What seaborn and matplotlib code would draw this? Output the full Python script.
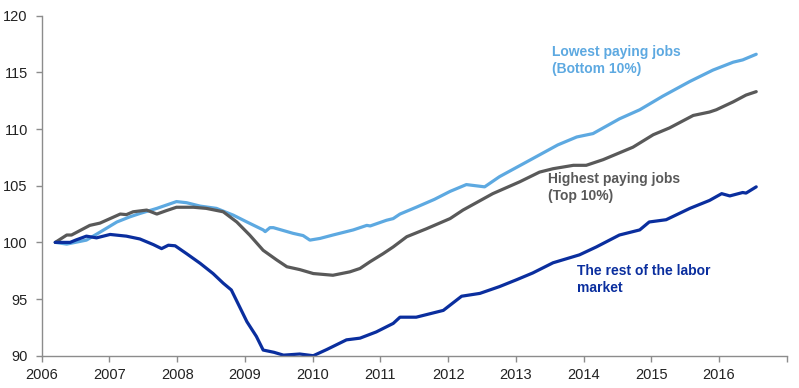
import matplotlib
matplotlib.use("Agg")
import matplotlib.pyplot as plt
import seaborn as sns

# Lowest paying jobs (Bottom 10%)
low_x = [2006.2, 2006.37, 2006.66, 2006.86, 2007.11, 2007.3, 2007.45, 2007.7, 2007.99, 2008.14,
         2008.34, 2008.58, 2008.83, 2009.03, 2009.27, 2009.3, 2009.37, 2009.42, 2009.71, 2009.86,
         2009.96, 2010.11, 2010.3, 2010.6, 2010.8, 2010.85, 2011.09, 2011.19, 2011.29, 2011.53,
         2011.8, 2012.03, 2012.27, 2012.54, 2012.76, 2013.16, 2013.62, 2013.9, 2014.14, 2014.53,
         2014.83, 2015.17, 2015.57, 2015.91, 2016.21, 2016.35, 2016.55]
low_y = [100.0, 99.85, 100.2, 100.9, 101.8, 102.25, 102.55, 103.0, 103.6, 103.5,
         103.2, 103.0, 102.4, 101.8, 101.1, 100.95, 101.3, 101.3, 100.8, 100.6,
         100.2, 100.35, 100.65, 101.1, 101.5, 101.45, 101.95, 102.1, 102.5, 103.1,
         103.8, 104.5, 105.1, 104.9, 105.8, 107.1, 108.6, 109.3, 109.6, 110.9,
         111.7, 112.9, 114.2, 115.2, 115.9, 116.1, 116.6]

# Highest paying jobs (Top 10%)
high_x = [2006.2, 2006.37, 2006.44, 2006.71, 2006.86, 2007.01, 2007.16, 2007.25, 2007.35, 2007.55,
          2007.7, 2007.84, 2007.99, 2008.24, 2008.43, 2008.68, 2008.88, 2009.07, 2009.27, 2009.47,
          2009.62, 2009.81, 2010.01, 2010.3, 2010.55, 2010.7, 2010.85, 2011.04, 2011.19, 2011.29,
          2011.39, 2011.68, 2012.03, 2012.22, 2012.66, 2013.06, 2013.35, 2013.55, 2013.85, 2014.04,
          2014.29, 2014.73, 2015.03, 2015.27, 2015.62, 2015.86, 2015.96, 2016.21, 2016.4, 2016.55]
high_y = [100.0, 100.65, 100.65, 101.5, 101.7, 102.1, 102.5, 102.45, 102.7, 102.85,
          102.5, 102.8, 103.1, 103.1, 103.0, 102.7, 101.8, 100.65, 99.3, 98.45,
          97.85, 97.6, 97.25, 97.1, 97.4, 97.7, 98.3, 99.0, 99.6, 100.05,
          100.5, 101.2, 102.1, 102.85, 104.3, 105.35, 106.2, 106.5, 106.8, 106.8,
          107.3, 108.4, 109.5, 110.1, 111.2, 111.5, 111.7, 112.4, 113.0, 113.3]

# The rest of the labor market
rest_x = [2006.2, 2006.42, 2006.5, 2006.66, 2006.81, 2007.01, 2007.25, 2007.45, 2007.65, 2007.77,
          2007.87, 2007.97, 2008.14, 2008.34, 2008.53, 2008.68, 2008.8, 2009.03, 2009.17, 2009.27,
          2009.43, 2009.57, 2009.81, 2010.01, 2010.21, 2010.5, 2010.7, 2010.94, 2011.19, 2011.29,
          2011.53, 2011.93, 2012.2, 2012.47, 2012.76, 2013.01, 2013.25, 2013.55, 2013.94, 2014.19,
          2014.53, 2014.83, 2014.97, 2015.22, 2015.57, 2015.86, 2016.04, 2016.16, 2016.35, 2016.4,
          2016.55]
rest_y = [100.0, 100.0, 100.2, 100.55, 100.4, 100.7, 100.55, 100.3, 99.8, 99.45,
          99.75, 99.7, 99.0, 98.15, 97.25, 96.4, 95.8, 93.0, 91.7, 90.5,
          90.3, 90.05, 90.15, 90.0, 90.55, 91.4, 91.55, 92.1, 92.85, 93.4,
          93.4, 94.0, 95.25, 95.5, 96.1, 96.7, 97.3, 98.2, 98.9, 99.6,
          100.65, 101.1, 101.8, 102.0, 103.0, 103.7, 104.3, 104.1, 104.4, 104.35,
          104.9]

year_ticks = list(range(2006, 2018))
year_labels = [str(y) for y in range(2006, 2017)] + [""]
y_ticks = [90, 95, 100, 105, 110, 115, 120]

c_low = "#5DA9E1"
c_high = "#595959"
c_rest = "#0A2E9E"

sns.set_theme(style="white")
plt.rcParams['font.family'] = ['Liberation Sans', 'DejaVu Sans']

fig = plt.figure(figsize=(7.99, 3.88), dpi=100)
ax = fig.add_axes([0.0522, 0.0832, 0.9324, 0.8763])

# Drawing the three series
sns.lineplot(x=low_x, y=low_y, ax=ax, color=c_low, linewidth=2.3)
sns.lineplot(x=high_x, y=high_y, ax=ax, color=c_high, linewidth=2.3)
sns.lineplot(x=rest_x, y=rest_y, ax=ax, color=c_rest, linewidth=2.3)

ax.set_xlim(2006, 2017)
ax.set_ylim(90, 120)
ax.set_xticks(year_ticks)
ax.set_xticklabels(year_labels, fontsize=10.5, color="#222222")
ax.set_yticks(y_ticks)
ax.set_yticklabels([str(v) for v in y_ticks], fontsize=10.5, color="#222222")

for side in ["top", "right"]:
    ax.spines[side].set_visible(False)
for side in ["left", "bottom"]:
    ax.spines[side].set_color("#8c8c8c")
    ax.spines[side].set_linewidth(1)
ax.tick_params(axis="both", direction="out", length=4, width=1, color="#8c8c8c",
               bottom=True, left=True)
ax.tick_params(axis="x", pad=5)
ax.tick_params(axis="y", pad=6)

# Series labels
ax.text(2013.53, 117.4, "Lowest paying jobs\n(Bottom 10%)", color=c_low, fontsize=10,
        fontweight="bold", ha="left", va="top", linespacing=1.3)
ax.text(2013.47, 106.2, "Highest paying jobs\n(Top 10%)", color=c_high, fontsize=10,
        fontweight="bold", ha="left", va="top", linespacing=1.3)
ax.text(2013.9, 98.1, "The rest of the labor\nmarket", color=c_rest, fontsize=10,
        fontweight="bold", ha="left", va="top", linespacing=1.3)

fig.savefig("out.png", dpi=100)
